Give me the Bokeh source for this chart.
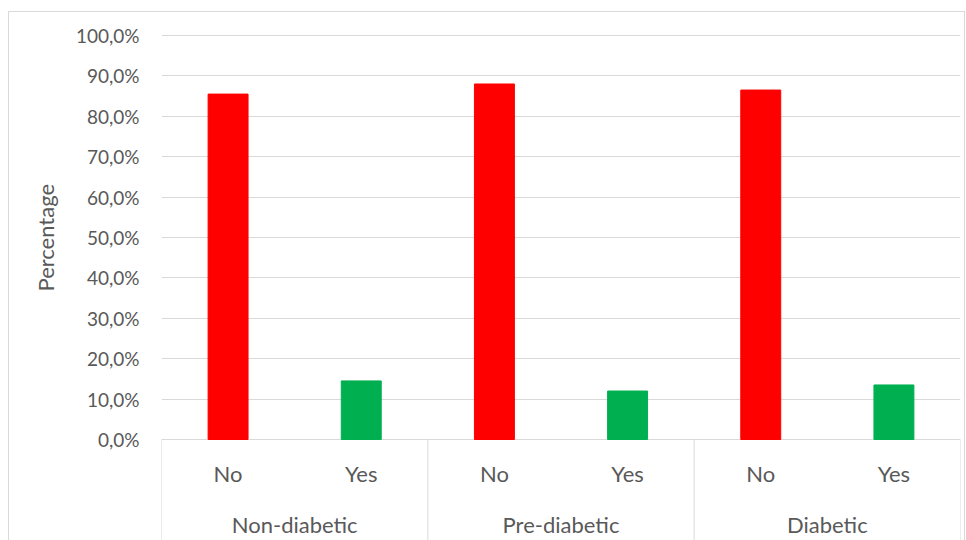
from bokeh.plotting import figure
from bokeh.models import Range1d, FixedTicker, CustomJSTickFormatter, ColumnDataSource, Title
from bokeh.core.properties import value
from bokeh.embed import file_html
from bokeh.resources import INLINE

# Share of respondents answering No / Yes within each glycaemic group
groups = ["Non-diabetic", "Pre-diabetic", "Diabetic"]
answers = ["No", "Yes"]
pct_no = [85.5, 88.0, 86.5]
pct_yes = [14.5, 12.0, 13.5]
y_ticks = [0, 10, 20, 30, 40, 50, 60, 70, 80, 90, 100]

TEXT = "#595959"
GRID = "#d9d9d9"
FONT = "Lato"

# each group spans one unit on x; the two answers sit at a quarter and three quarters
offsets = {"No": 0.25, "Yes": 0.75}

p = figure(
    width=957, height=529,
    x_range=Range1d(0, 3), y_range=Range1d(-25.25, 102.48),
    x_axis_type=None,
    output_backend="svg", toolbar_location=None,
    min_border_left=152, min_border_right=6, min_border_top=13, min_border_bottom=0,
    margin=(11, 0, 0, 8),
    styles={"border-top": "1px solid #d9d9d9", "border-left": "1px solid #d9d9d9",
            "border-right": "1px solid #d9d9d9"},
)
p.outline_line_color = None
p.background_fill_color = "white"
p.border_fill_color = "white"

# bars
no_src = ColumnDataSource(dict(x=[i + offsets["No"] for i in range(len(groups))], top=pct_no))
yes_src = ColumnDataSource(dict(x=[i + offsets["Yes"] for i in range(len(groups))], top=pct_yes))
p.vbar(x="x", top="top", bottom=0, width=0.15, color="#FF0000", source=no_src)
p.vbar(x="x", top="top", bottom=0, width=0.15, color="#00B050", source=yes_src)

# y axis
yax = p.yaxis[0]
yax.ticker = FixedTicker(ticks=y_ticks)
yax.formatter = CustomJSTickFormatter(code="return tick.toFixed(1).replace('.', ',') + '%';")
yax.axis_line_color = None
yax.major_tick_line_color = None
yax.minor_tick_line_color = None
yax.major_tick_out = 0
yax.major_label_standoff = 22
yax.major_label_text_font = FONT
yax.major_label_text_font_size = "19px"
yax.major_label_text_color = TEXT

# axis title on the left side, lifted so it is centred on the 0-100 span
p.add_layout(Title(
    text="Percentage", align="left", offset=250, standoff=28,
    text_font=FONT, text_font_size="22px", text_font_style="normal", text_color=TEXT,
), "left")

p.ygrid.ticker = FixedTicker(ticks=y_ticks)
p.ygrid.grid_line_color = GRID
p.ygrid.grid_line_width = 1
p.xgrid.grid_line_color = None

# category box below the baseline
bottom = p.y_range.start
p.segment(x0=list(range(len(groups) + 1)), y0=[0] * (len(groups) + 1),
          x1=list(range(len(groups) + 1)), y1=[bottom] * (len(groups) + 1),
          line_color=GRID, line_width=1)

# answer labels and group labels
ans_x, ans_t = [], []
for i in range(len(groups)):
    for a in answers:
        ans_x.append(i + offsets[a])
        ans_t.append(a)
p.text(x=ans_x, y=[-8.4] * len(ans_x), text=ans_t,
       text_font=value(FONT), text_font_size="22px", text_color=TEXT,
       text_align="center", text_baseline="middle")
p.text(x=[i + 0.5 for i in range(len(groups))], y=[-21.0] * len(groups), text=groups,
       text_font=value(FONT), text_font_size="22px", text_color=TEXT,
       text_align="center", text_baseline="middle")

open("out.html", "w").write(file_html(p, INLINE))
